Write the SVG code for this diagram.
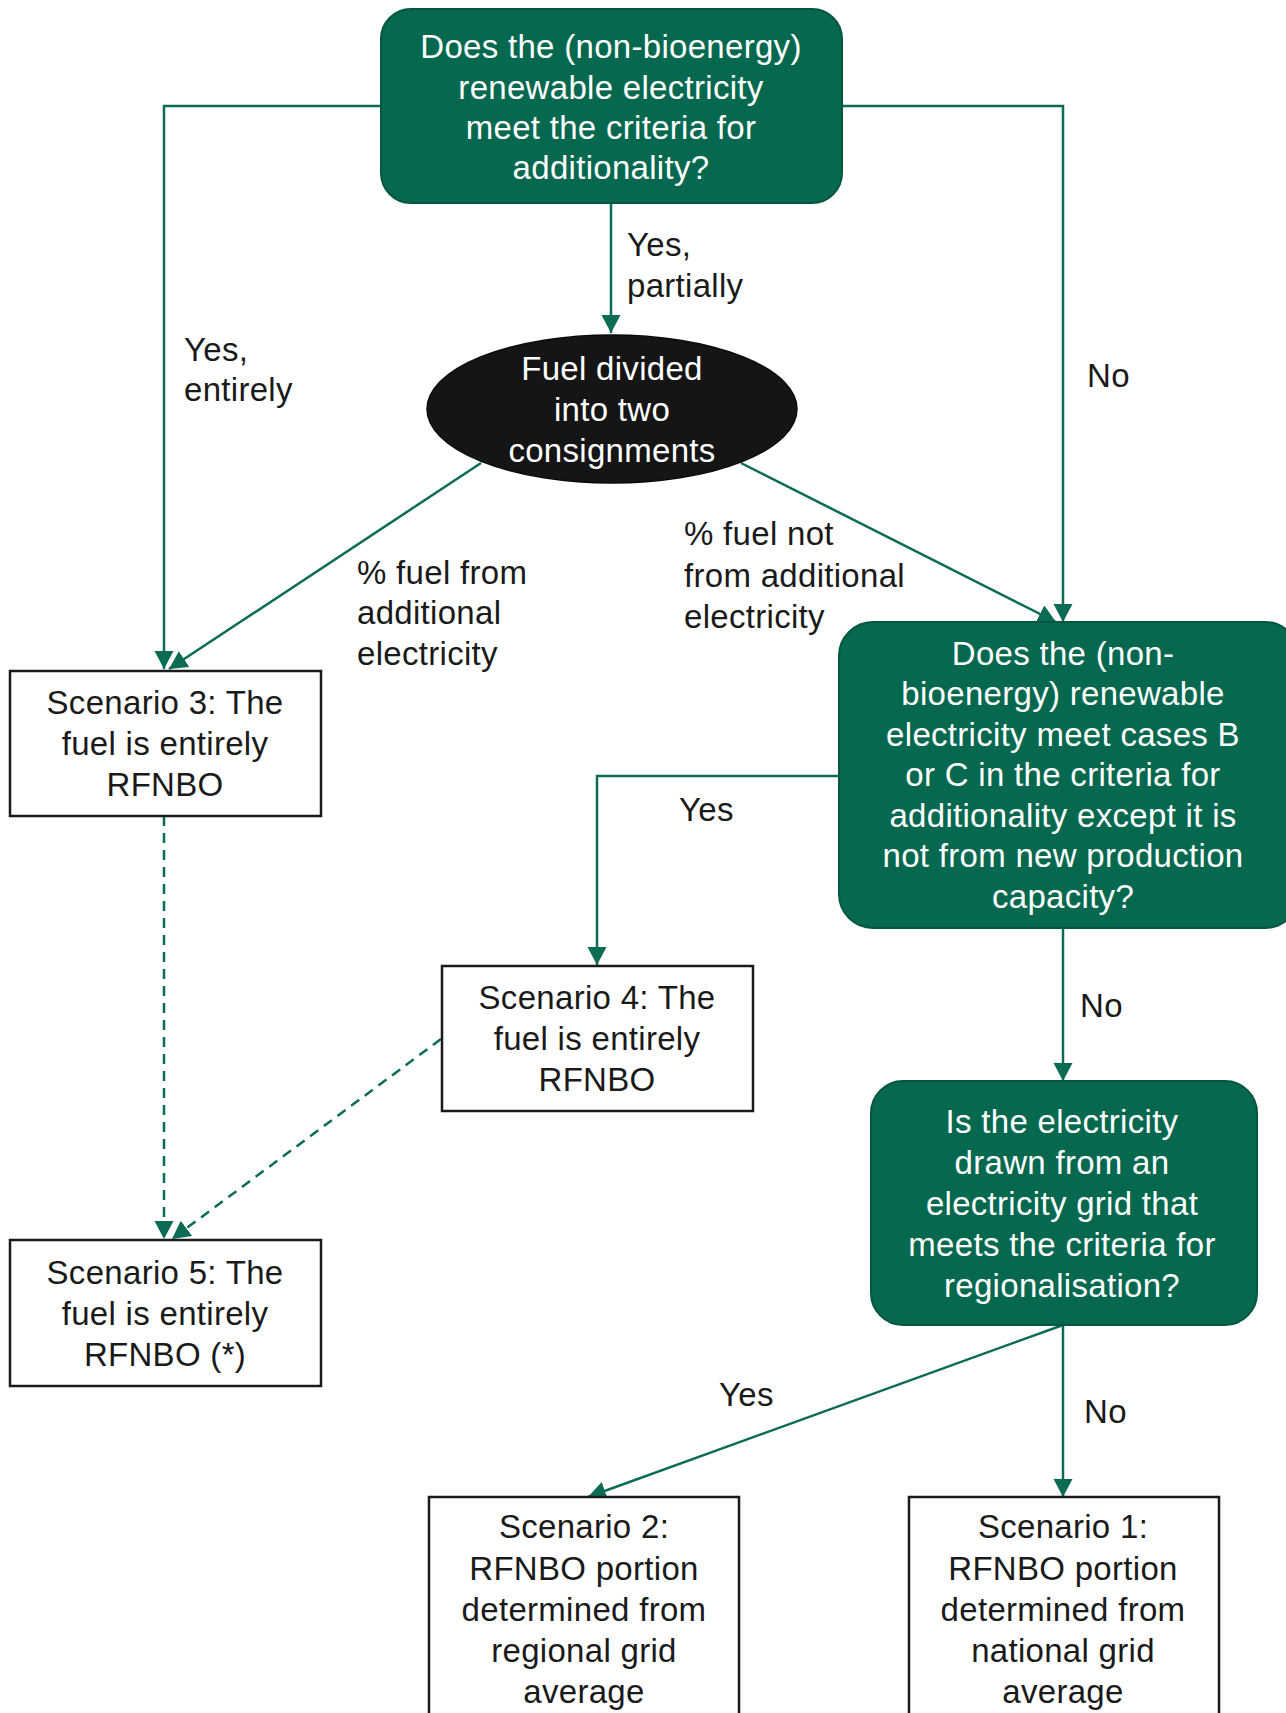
<svg xmlns="http://www.w3.org/2000/svg" width="1286" height="1713" viewBox="0 0 1286 1713">
<style>
.q{fill:#05684F;stroke:#045640;stroke-width:2}
.s{fill:#fff;stroke:#1a1a1a;stroke-width:2.5}
.e{fill:#151515;stroke:#0a0a0a;stroke-width:1.5}
text{font-family:"Liberation Sans",Arial,sans-serif;font-size:33px;letter-spacing:0.3px}
.w{fill:#fff;text-anchor:middle}
.b{fill:#1a1a1a;text-anchor:middle}
.l{fill:#1a1a1a}
.c{fill:none;stroke:#0C6B55;stroke-width:2.5}
.d{stroke-dasharray:10 7}
</style>
<defs>
<marker id="ah" markerUnits="userSpaceOnUse" markerWidth="20" markerHeight="20" refX="18" refY="9.5" orient="auto">
<path d="M0,0 L18,9.5 L0,19 Z" fill="#0C6B55"/>
</marker>
</defs>
<g id="connectors">
<path class="c" d="M381,106 H164 V669" marker-end="url(#ah)"/>
<path class="c" d="M841,106 H1063 V622" marker-end="url(#ah)"/>
<path class="c" d="M611,203 V333" marker-end="url(#ah)"/>
<path class="c" d="M481,463 L169,669" marker-end="url(#ah)"/>
<path class="c" d="M741,463 L1056,622" marker-end="url(#ah)"/>
<path class="c" d="M840,776 H597 V965" marker-end="url(#ah)"/>
<path class="c" d="M1063,929 V1081" marker-end="url(#ah)"/>
<path class="c d" d="M164,816 V1239" marker-end="url(#ah)"/>
<path class="c d" d="M441,1039 L172,1239" marker-end="url(#ah)"/>
<path class="c" d="M1063,1325 L588,1497" marker-end="url(#ah)"/>
<path class="c" d="M1063,1325 V1497" marker-end="url(#ah)"/>
<text class="l" x="627" y="256">Yes,</text>
<text class="l" x="627" y="297">partially</text>
<text class="l" x="184" y="361">Yes,</text>
<text class="l" x="184" y="401">entirely</text>
<text class="l" x="1087" y="387">No</text>
<text class="l" x="357" y="584">% fuel from</text>
<text class="l" x="357" y="624">additional</text>
<text class="l" x="357" y="665">electricity</text>
<text class="l" x="684" y="545">% fuel not</text>
<text class="l" x="684" y="587">from additional</text>
<text class="l" x="684" y="628">electricity</text>
<text class="l" x="679" y="821">Yes</text>
<text class="l" x="1080" y="1017">No</text>
<text class="l" x="719" y="1406">Yes</text>
<text class="l" x="1084" y="1423">No</text>
</g>
<g id="q1">
<rect class="q" x="381" y="9" width="461" height="194" rx="30"/>
<text class="w" x="611" y="58">Does the (non-bioenergy)</text>
<text class="w" x="611" y="98.5">renewable electricity</text>
<text class="w" x="611" y="139">meet the criteria for</text>
<text class="w" x="611" y="179">additionality?</text>
</g>
<g id="split">
<ellipse class="e" cx="612" cy="409" rx="185" ry="74"/>
<text class="w" x="612" y="380">Fuel divided</text>
<text class="w" x="612" y="421">into two</text>
<text class="w" x="612" y="462">consignments</text>
</g>
<g id="q2">
<rect class="q" x="839" y="622" width="460" height="306" rx="34"/>
<text class="w" x="1063" y="665">Does the (non-</text>
<text class="w" x="1063" y="705">bioenergy) renewable</text>
<text class="w" x="1063" y="746">electricity meet cases B</text>
<text class="w" x="1063" y="786">or C in the criteria for</text>
<text class="w" x="1063" y="827">additionality except it is</text>
<text class="w" x="1063" y="867">not from new production</text>
<text class="w" x="1063" y="908">capacity?</text>
</g>
<g id="q3">
<rect class="q" x="871" y="1081" width="386" height="244" rx="32"/>
<text class="w" x="1062" y="1133">Is the electricity</text>
<text class="w" x="1062" y="1174">drawn from an</text>
<text class="w" x="1062" y="1215">electricity grid that</text>
<text class="w" x="1062" y="1256">meets the criteria for</text>
<text class="w" x="1062" y="1297">regionalisation?</text>
</g>
<g id="s3">
<rect class="s" x="10" y="671" width="311" height="145"/>
<text class="b" x="165" y="714">Scenario 3: The</text>
<text class="b" x="165" y="755">fuel is entirely</text>
<text class="b" x="165" y="796">RFNBO</text>
</g>
<g id="s4">
<rect class="s" x="442" y="966" width="311" height="145"/>
<text class="b" x="597" y="1009">Scenario 4: The</text>
<text class="b" x="597" y="1050">fuel is entirely</text>
<text class="b" x="597" y="1091">RFNBO</text>
</g>
<g id="s5">
<rect class="s" x="10" y="1240" width="311" height="146"/>
<text class="b" x="165" y="1284">Scenario 5: The</text>
<text class="b" x="165" y="1325">fuel is entirely</text>
<text class="b" x="165" y="1366">RFNBO (*)</text>
</g>
<g id="s2">
<rect class="s" x="429" y="1497" width="310" height="240"/>
<text class="b" x="584" y="1538">Scenario 2:</text>
<text class="b" x="584" y="1580">RFNBO portion</text>
<text class="b" x="584" y="1621">determined from</text>
<text class="b" x="584" y="1662">regional grid</text>
<text class="b" x="584" y="1703">average</text>
</g>
<g id="s1">
<rect class="s" x="909" y="1497" width="310" height="240"/>
<text class="b" x="1063" y="1538">Scenario 1:</text>
<text class="b" x="1063" y="1580">RFNBO portion</text>
<text class="b" x="1063" y="1621">determined from</text>
<text class="b" x="1063" y="1662">national grid</text>
<text class="b" x="1063" y="1703">average</text>
</g>
</svg>
